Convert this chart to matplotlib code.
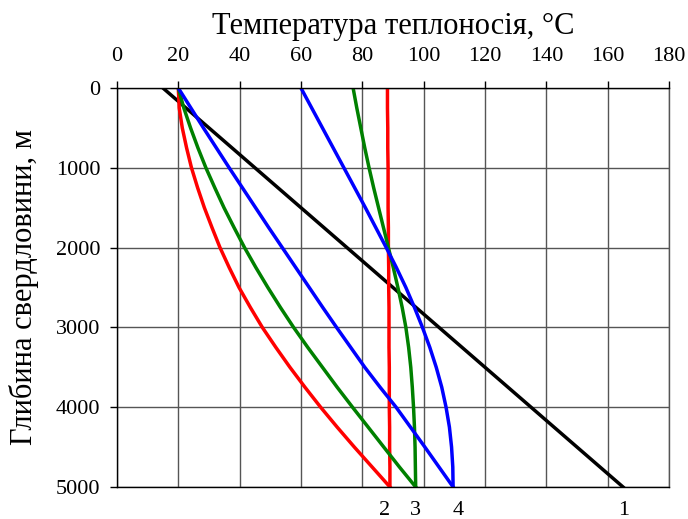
import matplotlib.pyplot as plt
import numpy as np

plt.rcParams['font.family'] = ['Liberation Serif', 'DejaVu Serif']

# depth, m
depth = [0, 250, 500, 750, 1000, 1250, 1500, 1750, 2000, 2250, 2500,
         2750, 3000, 3250, 3500, 3750, 4000, 4250, 4500, 4750, 5000]

# 1 - black straight line
depth_1 = [0, 5000]
temp_1 = [15, 165]

# 2 - red: down and up
temp_2_down = [88.2, 88.2, 88.3, 88.3, 88.4, 88.4, 88.4, 88.5, 88.5, 88.6, 88.6,
               88.7, 88.7, 88.7, 88.8, 88.8, 88.8, 88.9, 88.9, 89.0, 89.0]
temp_2_up = [20, 20.3, 21.3, 22.7, 24.3, 26.3, 28.5, 31, 33.6, 36.6, 39.8,
             43.5, 47.4, 51.8, 56.4, 61.3, 66.4, 71.8, 77.4, 83.2, 89.0]

# 3 - green: down and up
temp_3_down = [77, 78.2, 79.5, 80.8, 82.2, 83.7, 85.3, 86.9, 88.5, 90.1, 91.6,
               93, 94.2, 95.1, 95.8, 96.3, 96.7, 97, 97.2, 97.3, 97.4]
temp_3_up = [20, 21.8, 24, 26.4, 29, 31.9, 34.9, 38.2, 41.6, 45.3, 49.2,
             53.3, 57.6, 62.2, 67, 71.8, 76.8, 81.9, 87, 92.1, 97.4]

# 4 - blue: down and up
temp_4_down = [60, 63.5, 67, 70.5, 74, 77.5, 81, 84.4, 87.8, 91.1, 94.2,
               97, 99.6, 102, 104.1, 105.9, 107.3, 108.4, 109.1, 109.5, 109.6]
temp_4_up = [20, 24.1, 28.2, 32.4, 36.6, 40.9, 45.2, 49.5, 53.9, 58.3, 62.7,
             67.1, 71.6, 76.2, 80.8, 85.8, 91, 95.7, 100.4, 105, 109.6]

curve_labels = ['1', '2', '3', '4']
label_x = [165.3, 87.4, 97.4, 111.3]

fig = plt.figure(figsize=(6.88, 5.19), dpi=100)
ax = fig.add_axes([0.170, 0.0617, 0.8024, 0.7687])

lw = 2.5
ax.plot(temp_1, depth_1, color='black', lw=lw)
ax.plot(temp_2_down, depth, color='#ff0000', lw=lw)
ax.plot(temp_2_up, depth, color='#ff0000', lw=lw)
ax.plot(temp_3_down, depth, color='#008000', lw=lw)
ax.plot(temp_3_up, depth, color='#008000', lw=lw)
ax.plot(temp_4_down, depth, color='#0000ff', lw=lw)
ax.plot(temp_4_up, depth, color='#0000ff', lw=lw)

ax.set_xlim(0, 180)
ax.set_ylim(5000, 0)
ax.set_xticks(np.arange(0, 181, 20))
ax.set_yticks(np.arange(0, 5001, 1000))
ax.xaxis.tick_top()
ax.xaxis.set_label_position('top')
ax.tick_params(axis='both', direction='out', length=5, width=1, labelsize=16, colors='black')
ax.tick_params(axis='x', pad=11)
ax.tick_params(axis='y', pad=7)
ax.grid(True, color='#555555', linewidth=1)
ax.set_axisbelow(True)
for s in ax.spines.values():
    s.set_linewidth(1)
ax.spines['right'].set_color('#555555')

ax.set_xlabel('Температура теплоносія, °C', fontsize=22, labelpad=9)
ax.set_ylabel('Глибина свердловини, м', fontsize=22, labelpad=12)

for lab, x in zip(curve_labels, label_x):
    ax.annotate(lab, xy=(x, 5000), xytext=(0, -17), textcoords='offset points',
                ha='center', va='center', fontsize=16, annotation_clip=False)

fig.savefig('out.png', dpi=100)
